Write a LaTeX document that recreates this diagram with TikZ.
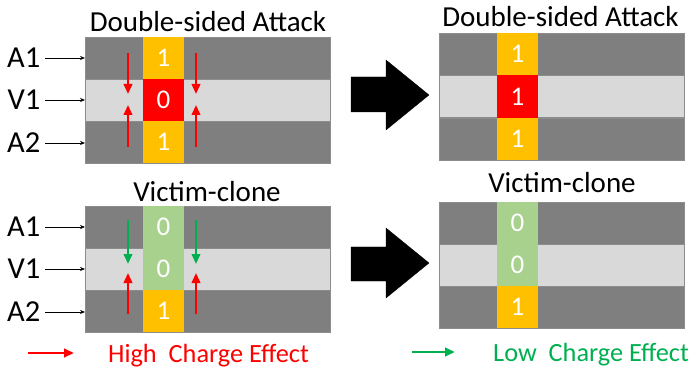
\documentclass[tikz,border=0pt]{standalone}
\usepackage{fontspec}
\setmainfont{Carlito}
\usetikzlibrary{arrows.meta}
\definecolor{cdark}{HTML}{7F7F7F}
\definecolor{clight}{HTML}{D9D9D9}
\definecolor{corange}{HTML}{FFC000}
\definecolor{cred}{HTML}{FF0000}
\definecolor{cgreenl}{HTML}{A9D18E}
\definecolor{cgreen}{HTML}{00B050}
\definecolor{cedge}{HTML}{8C8C8C}
\begin{document}
\begin{tikzpicture}[x=1pt,y=-1pt,
  rowbox/.style={rectangle, anchor=north west, minimum width=245pt, minimum height=42pt, inner sep=0pt, outer sep=0pt, draw=cedge, line width=0.4pt},
  darkrow/.style={rowbox, fill=cdark},
  lightrow/.style={rowbox, fill=clight},
  cell/.style={rectangle, minimum width=41pt, minimum height=42pt, inner sep=0pt, outer sep=0pt, text=white, font=\fontsize{27}{27}\selectfont},
  ttl/.style={anchor=base, inner sep=0pt, font=\fontsize{29}{29}\selectfont},
  lbl/.style={anchor=east, inner sep=0pt, font=\fontsize{30.5}{30.5}\selectfont},
  lblarrow/.style={-{Stealth[length=5pt,width=4pt]}, line width=0.6pt, black},
  redarr/.style={-{Triangle[length=10pt,width=8.5pt]}, line width=2.2pt, cred},
  grnarr/.style={-{Triangle[length=10pt,width=8.5pt]}, line width=2.2pt, cgreen},
  legtxt/.style={anchor=base west, inner sep=0pt, font=\fontsize{26.3}{26.3}\selectfont},
  blockarrow/.style={fill=black, draw=black, line width=0.3pt}
]
\useasboundingbox (0,0) rectangle (698,371);

% ---------- Top-left panel ----------
\node[ttl] (tlt) at (208,32) {Double-sided Attack};
\node[darkrow]  (tla1) at (85,37) {};
\node[lightrow] (tlv1) at (85,79) {};
\node[darkrow]  (tla2) at (85,121) {};
\node[cell, fill=corange] (tlc1) at (163.5,58) {1};
\node[cell, fill=cred]    (tlc2) at (163.5,100) {0};
\node[cell, fill=corange] (tlc3) at (163.5,142) {1};

\node[lbl] (tll1) at (40.5,58) {A1};
\node[lbl] (tll2) at (40.5,100) {V1};
\node[lbl] (tll3) at (40.5,143) {A2};
\draw[lblarrow] ([xshift=4.5pt]tll1.east) -- (tll1.east -| tla1.west);
\draw[lblarrow] ([xshift=4.5pt]tll2.east) -- (tll2.east -| tlv1.west);
\draw[lblarrow] ([xshift=4.5pt]tll3.east) -- (tll3.east -| tla2.west);

\coordinate (tlr1s) at (128,53);  \coordinate (tlr1e) at (128,94);
\coordinate (tlr2s) at (128,147); \coordinate (tlr2e) at (128,105);
\coordinate (tlr3s) at (196,53);  \coordinate (tlr3e) at (196,94);
\coordinate (tlr4s) at (196,147); \coordinate (tlr4e) at (196,105);
\draw[redarr] (tlr1s) -- (tlr1e);
\draw[redarr] (tlr2s) -- (tlr2e);
\draw[redarr] (tlr3s) -- (tlr3e);
\draw[redarr] (tlr4s) -- (tlr4e);

% ---------- Bottom-left panel ----------
\node[ttl] (blt) at (207,202) {Victim-clone};
\node[darkrow]  (bla1) at (85,206) {};
\node[lightrow] (blv1) at (85,248) {};
\node[darkrow]  (bla2) at (85,290) {};
\node[cell, fill=cgreenl] (blc1) at (163.5,227) {0};
\node[cell, fill=cgreenl] (blc2) at (163.5,269) {0};
\node[cell, fill=corange] (blc3) at (163.5,311) {1};

\node[lbl] (bll1) at (40.5,227) {A1};
\node[lbl] (bll2) at (40.5,269) {V1};
\node[lbl] (bll3) at (40.5,312) {A2};
\draw[lblarrow] ([xshift=4.5pt]bll1.east) -- (bll1.east -| bla1.west);
\draw[lblarrow] ([xshift=4.5pt]bll2.east) -- (bll2.east -| blv1.west);
\draw[lblarrow] ([xshift=4.5pt]bll3.east) -- (bll3.east -| bla2.west);

\coordinate (blg1s) at (128,220); \coordinate (blg1e) at (128,264);
\coordinate (blr1s) at (128,314); \coordinate (blr1e) at (128,273);
\coordinate (blg2s) at (196,220); \coordinate (blg2e) at (196,264);
\coordinate (blr2s) at (196,314); \coordinate (blr2e) at (196,273);
\draw[grnarr] (blg1s) -- (blg1e);
\draw[redarr] (blr1s) -- (blr1e);
\draw[grnarr] (blg2s) -- (blg2e);
\draw[redarr] (blr2s) -- (blr2e);

% ---------- Block arrows ----------
\draw[blockarrow] (351,77) -- (386,77) -- (386,60) -- (429,95) -- (386,130) -- (386,112) -- (351,112) -- cycle;
\draw[blockarrow] (351,247) -- (386,247) -- (386,228) -- (429,263) -- (386,298) -- (386,281) -- (351,281) -- cycle;

% ---------- Top-right panel ----------
\node[ttl] (trt) at (560.5,27) {Double-sided Attack};
\node[darkrow]  (tra1) at (439,33) {};
\node[lightrow] (trv1) at (439,75.5) {};
\node[darkrow]  (tra2) at (439,118) {};
\node[cell, fill=corange] (trc1) at (517.5,54) {1};
\node[cell, fill=cred, minimum height=42.5pt]    (trc2) at (517.5,96.75) {1};
\node[cell, fill=corange] (trc3) at (517.5,139) {1};

% ---------- Bottom-right panel ----------
\node[ttl] (brt) at (562,193) {Victim-clone};
\node[darkrow]  (bra1) at (439,202) {};
\node[lightrow] (brv1) at (439,244) {};
\node[darkrow]  (bra2) at (439,286) {};
\node[cell, fill=cgreenl] (brc1) at (517.5,223) {0};
\node[cell, fill=cgreenl] (brc2) at (517.5,265) {0};
\node[cell, fill=corange] (brc3) at (517.5,307) {1};

% ---------- Legend ----------
\coordinate (lr1) at (28,353); \coordinate (lr2) at (74,353);
\draw[redarr, line width=2.4pt] (lr1) -- (lr2);
\node[legtxt, text=cred] (lrt) at (108,362) {High\ \ Charge Effect};
\coordinate (lg1) at (412,352); \coordinate (lg2) at (455,352);
\draw[grnarr, line width=2.4pt] (lg1) -- (lg2);
\node[legtxt, text=cgreen] (lgt) at (493,361) {Low\ \ Charge Effect};
\end{tikzpicture}
\end{document}
